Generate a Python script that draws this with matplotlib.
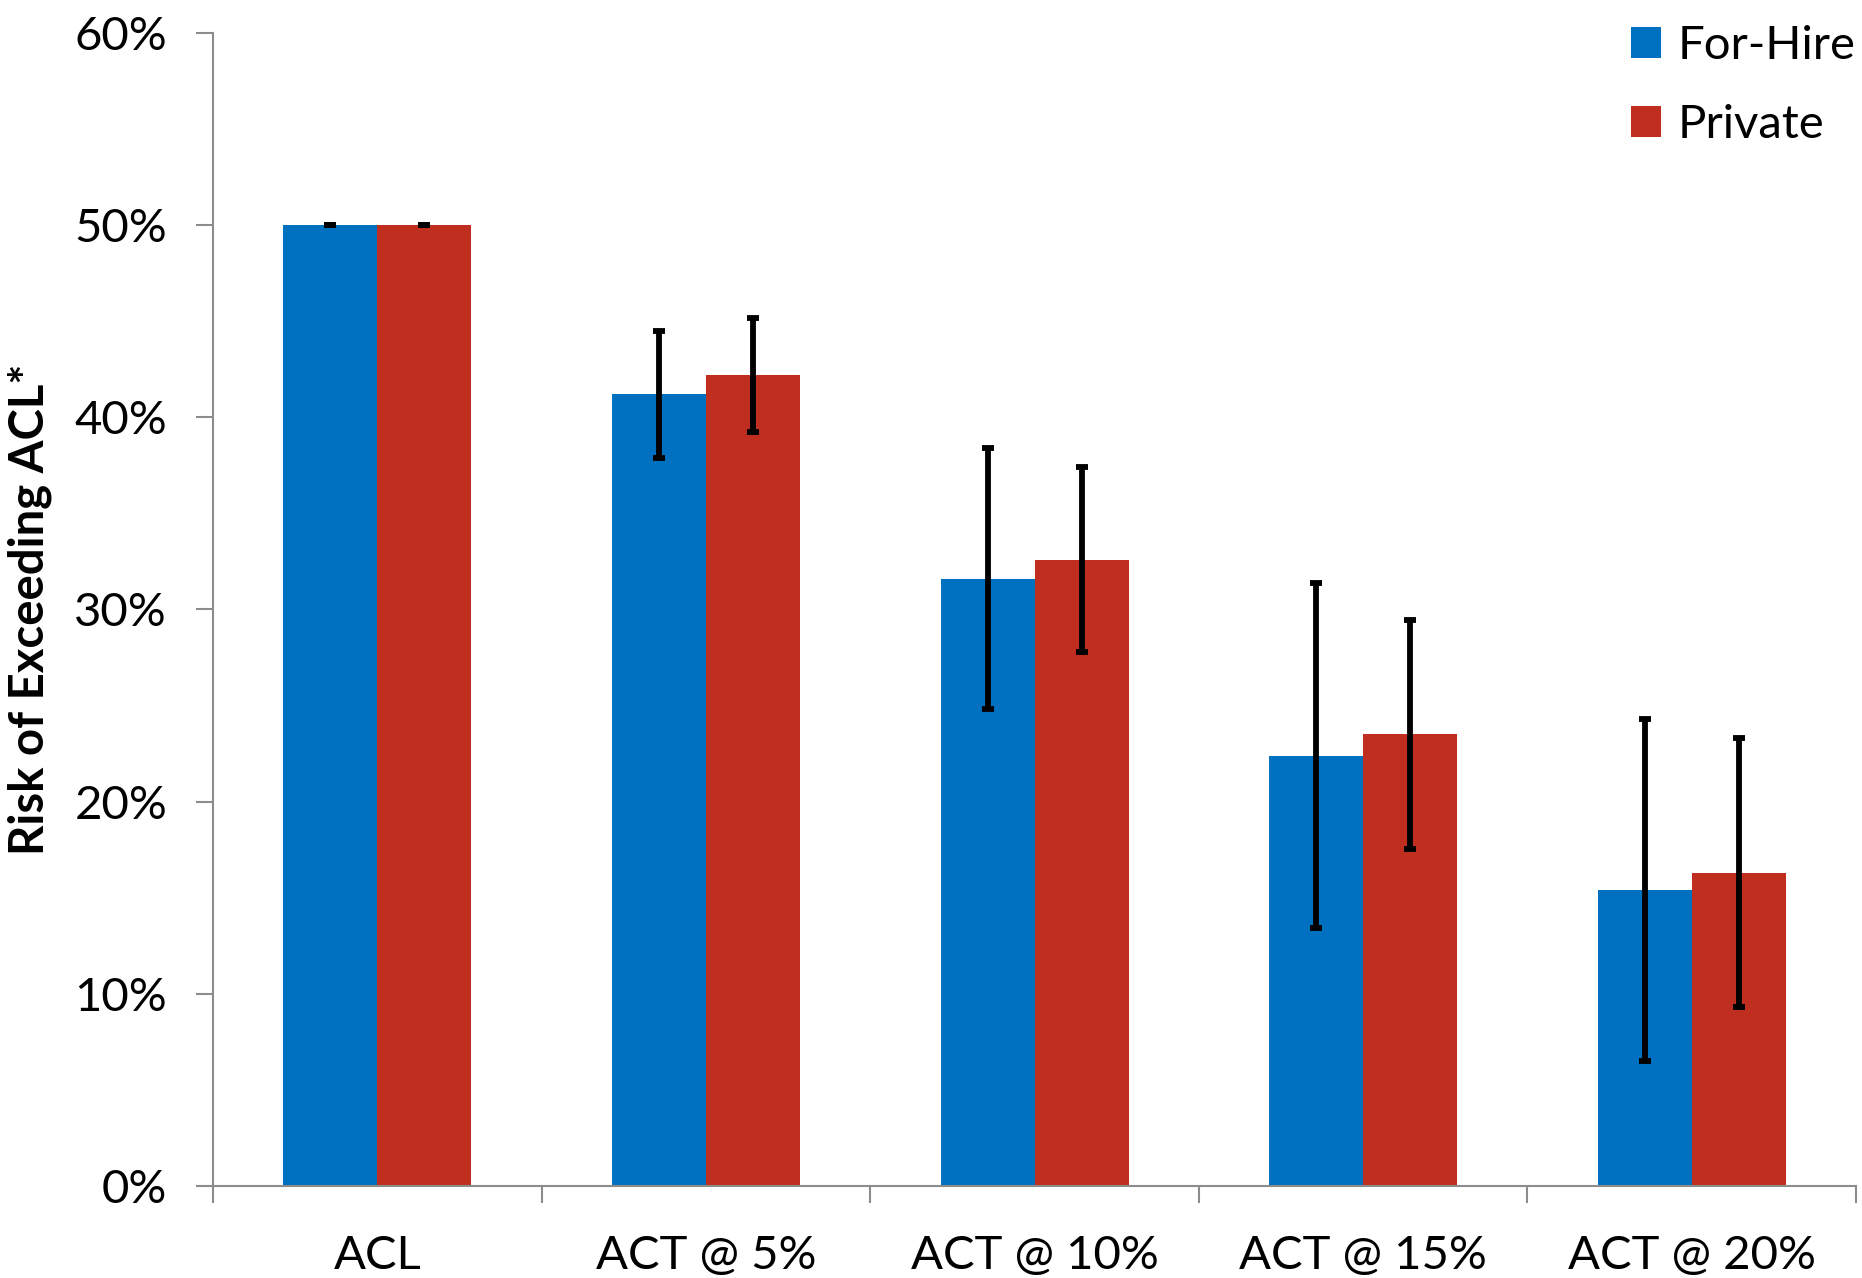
import matplotlib.pyplot as plt
import numpy as np

categories = ['ACL', 'ACT @ 5%', 'ACT @ 10%', 'ACT @ 15%', 'ACT @ 20%']
for_hire = [50.0, 41.2, 31.6, 22.4, 15.4]
private = [50.0, 42.2, 32.6, 23.5, 16.3]
for_hire_err = [0.0, 3.3, 6.8, 9.0, 8.9]
private_err = [0.0, 2.95, 4.8, 5.95, 7.0]
yticks = [0, 10, 20, 30, 40, 50, 60]

blue = '#0070C0'
red = '#C02E1F'
grey = '#8C8C8C'

plt.rcParams['font.family'] = ['Lato', 'DejaVu Sans']

fig = plt.figure(figsize=(18.62, 12.78), dpi=100)
ax = fig.add_axes([0.1144, 0.072, 0.8824, 0.9022])

x = np.arange(len(categories))
width = 0.286
err_kw = dict(ecolor='black', elinewidth=4.2, capsize=4.5, capthick=4.2)
ax.bar(x - width/2, for_hire, width, color=blue, label='For-Hire',
       yerr=for_hire_err, error_kw=err_kw, zorder=2)
ax.bar(x + width/2, private, width, color=red, label='Private',
       yerr=private_err, error_kw=err_kw, zorder=2)

ax.set_xlim(-0.5, len(categories) - 0.5)
ax.set_ylim(0, 60)
ax.set_yticks(yticks)
ax.set_yticklabels([f'{v}%' for v in yticks])

# labels sit at category centres, tick marks at the boundaries
ax.set_xticks(x)
ax.set_xticklabels(categories)
ax.set_xticks(np.arange(len(categories) + 1) - 0.5, minor=True)
ax.tick_params(axis='x', which='major', length=0, pad=35, labelsize=34)
ax.tick_params(axis='x', which='minor', length=12, width=1.5, color=grey)
ax.tick_params(axis='y', length=12, width=1.5, color=grey, pad=21, labelsize=34)

for side in ['top', 'right']:
    ax.spines[side].set_visible(False)
for side in ['left', 'bottom']:
    ax.spines[side].set_color(grey)
    ax.spines[side].set_linewidth(1.5)

ax.set_ylabel('Risk of Exceeding ACL*', fontsize=34, fontweight='bold', labelpad=16)

ax.legend(loc='upper right', bbox_to_anchor=(1.014, 1.027), frameon=False, fontsize=34,
          handlelength=0.64, handleheight=0.64, handletextpad=0.34,
          labelspacing=0.78, borderpad=0)

fig.savefig('out.png', dpi=100)
